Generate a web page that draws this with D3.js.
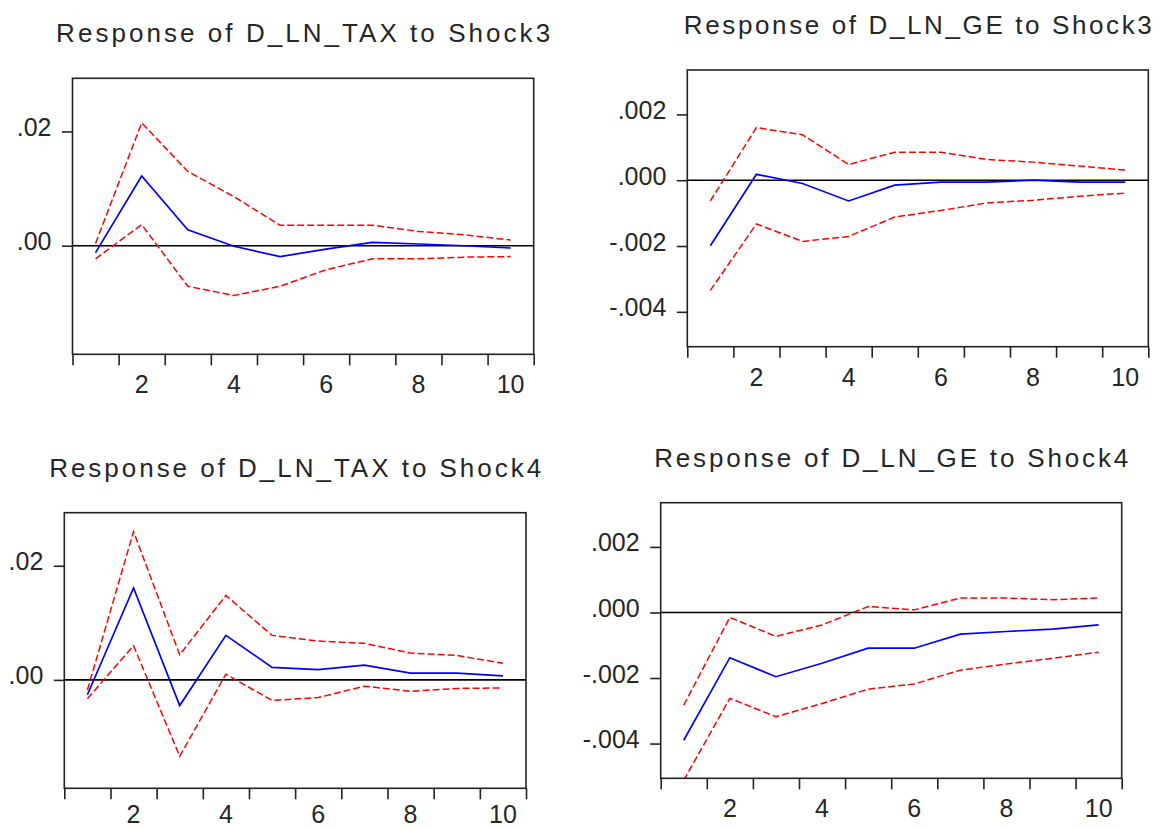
<!DOCTYPE html>
<html>
<head>
<meta charset="utf-8">
<script src="https://cdn.jsdelivr.net/npm/d3@7"></script>
<style>
  html, body { margin: 0; padding: 0; background: #fff; }
  svg { display: block; }
  text { font-family: "Liberation Sans", Arial, sans-serif; fill: #262626; }
</style>
</head>
<body>
<svg id="chart" width="1160" height="829"></svg>
<script>
// ---------- data ----------
const periods = [1, 2, 3, 4, 5, 6, 7, 8, 9, 10];
const xTickLabels = [2, 4, 6, 8, 10];

const titles = [
  "Response of D_LN_TAX to Shock3",
  "Response of D_LN_GE to Shock3",
  "Response of D_LN_TAX to Shock4",
  "Response of D_LN_GE to Shock4"
];

const taxYTicks = [0.00, 0.02];
const taxYTickLabels = [".00", ".02"];
const geYTicks = [-0.004, -0.002, 0.000, 0.002];
const geYTickLabels = ["-.004", "-.002", ".000", ".002"];

const taxYDomain = [-0.0190, 0.0293];
const geYDomain = [-0.00506, 0.00335];

// Response of D_LN_TAX to Shock3
const taxShock3Resp  = [-0.0012, 0.0122, 0.0028, -0.0001, -0.0019, -0.0006, 0.0006, 0.0003, 0.0000, -0.0004];
const taxShock3Upper = [0.0004, 0.0215, 0.0130, 0.0086, 0.0036, 0.0036, 0.0036, 0.0025, 0.0019, 0.0010];
const taxShock3Lower = [-0.0023, 0.0037, -0.0071, -0.0087, -0.0071, -0.0042, -0.0023, -0.0023, -0.0020, -0.0019];

// Response of D_LN_GE to Shock3
const geShock3Resp  = [-0.00199, 0.00018, -0.00010, -0.00063, -0.00015, -0.00006, -0.00006, 0.00000, -0.00006, -0.00006];
const geShock3Upper = [-0.00063, 0.00160, 0.00138, 0.00048, 0.00085, 0.00085, 0.00063, 0.00055, 0.00043, 0.00031];
const geShock3Lower = [-0.00335, -0.00133, -0.00186, -0.00171, -0.00112, -0.00092, -0.00069, -0.00061, -0.00049, -0.00039];

// Response of D_LN_TAX to Shock4
const taxShock4Resp  = [-0.0026, 0.0161, -0.0045, 0.0078, 0.0022, 0.0018, 0.0026, 0.0012, 0.0012, 0.0007];
const taxShock4Upper = [-0.0018, 0.0260, 0.0044, 0.0148, 0.0078, 0.0068, 0.0064, 0.0047, 0.0043, 0.0029];
const taxShock4Lower = [-0.0033, 0.0060, -0.0134, 0.0010, -0.0036, -0.0031, -0.0011, -0.0020, -0.0015, -0.0014];

// Response of D_LN_GE to Shock4
const geShock4Resp  = [-0.00390, -0.00138, -0.00196, -0.00155, -0.00109, -0.00109, -0.00066, -0.00058, -0.00051, -0.00038];
const geShock4Upper = [-0.00283, -0.00015, -0.00073, -0.00038, 0.00018, 0.00008, 0.00044, 0.00044, 0.00039, 0.00044];
const geShock4Lower = [-0.00512, -0.00262, -0.00318, -0.00278, -0.00234, -0.00218, -0.00176, -0.00157, -0.00140, -0.00121];

// ---------- layout ----------
const panels = [
  { title: titles[0], box: { l: 72.5, r: 533.7, t: 78.3, b: 354.3 }, yDomain: taxYDomain, yTicks: taxYTicks, yLabels: taxYTickLabels, resp: taxShock3Resp, upper: taxShock3Upper, lower: taxShock3Lower, titleLen: 494 },
  { title: titles[1], box: { l: 687.3, r: 1148.3, t: 70.0, b: 346.7 }, yDomain: geYDomain, yTicks: geYTicks, yLabels: geYTickLabels, resp: geShock3Resp, upper: geShock3Upper, lower: geShock3Lower, titleLen: 468 },
  { title: titles[2], box: { l: 64.3, r: 526.0, t: 512.7, b: 788.3 }, yDomain: taxYDomain, yTicks: taxYTicks, yLabels: taxYTickLabels, resp: taxShock4Resp, upper: taxShock4Upper, lower: taxShock4Lower, titleLen: 492 },
  { title: titles[3], box: { l: 660.7, r: 1121.7, t: 502.7, b: 778.3 }, yDomain: geYDomain, yTicks: geYTicks, yLabels: geYTickLabels, resp: geShock4Resp, upper: geShock4Upper, lower: geShock4Lower, titleLen: 474 }
];

const svg = d3.select("#chart");
const defs = svg.append("defs");
const xBoundaryTicks = d3.range(0.5, 10.6, 1);

panels.forEach((p, i) => {
  const b = p.box;
  const x = d3.scaleLinear().domain([0.5, 10.5]).range([b.l, b.r]);
  const y = d3.scaleLinear().domain(p.yDomain).range([b.b, b.t]);
  const g = svg.append("g");

  // title
  g.append("text")
    .attr("x", (b.l + b.r) / 2)
    .attr("y", b.t - 36)
    .attr("text-anchor", "middle")
    .attr("font-size", 26)
    .attr("textLength", p.titleLen)
    .attr("lengthAdjust", "spacing")
    .text(p.title);

  // clip
  const clipId = "clip" + i;
  defs.append("clipPath").attr("id", clipId)
    .append("rect").attr("x", b.l).attr("y", b.t).attr("width", b.r - b.l).attr("height", b.b - b.t);

  const plot = g.append("g").attr("clip-path", `url(#${clipId})`);

  // zero line
  plot.append("line")
    .attr("x1", b.l).attr("x2", b.r)
    .attr("y1", y(0)).attr("y2", y(0))
    .attr("stroke", "#000").attr("stroke-width", 1.6);

  const line = d3.line().x((d, k) => x(periods[k])).y(d => y(d));

  plot.append("path").datum(p.upper)
    .attr("d", line).attr("fill", "none")
    .attr("stroke", "#ff0000").attr("stroke-width", 1.5)
    .attr("stroke-dasharray", "7,3");
  plot.append("path").datum(p.lower)
    .attr("d", line).attr("fill", "none")
    .attr("stroke", "#ff0000").attr("stroke-width", 1.5)
    .attr("stroke-dasharray", "7,3");
  plot.append("path").datum(p.resp)
    .attr("d", line).attr("fill", "none")
    .attr("stroke", "#0000ff").attr("stroke-width", 1.7);

  // frame
  g.append("rect")
    .attr("x", b.l).attr("y", b.t)
    .attr("width", b.r - b.l).attr("height", b.b - b.t)
    .attr("fill", "none").attr("stroke", "#222").attr("stroke-width", 1.6);

  // x axis: ticks at period boundaries, labels at even periods
  const xAxis = d3.axisBottom(x).tickValues(xBoundaryTicks).tickSize(11).tickFormat("");
  const xg = g.append("g").attr("transform", `translate(0,${b.b})`).call(xAxis);
  xg.select(".domain").remove();
  xg.selectAll(".tick line").attr("stroke", "#222").attr("stroke-width", 1.6);

  g.selectAll(".xlab").data(xTickLabels).enter().append("text")
    .attr("x", d => x(d))
    .attr("y", Math.min(b.b + 39, 823))
    .attr("text-anchor", "middle")
    .attr("font-size", 25)
    .text(d => d);

  // y axis
  const yAxis = d3.axisLeft(y).tickValues(p.yTicks).tickSize(10.5).tickFormat("");
  const yg = g.append("g").attr("transform", `translate(${b.l},0)`).call(yAxis);
  yg.select(".domain").remove();
  yg.selectAll(".tick line").attr("stroke", "#222").attr("stroke-width", 1.6);

  g.selectAll(".ylab").data(p.yTicks).enter().append("text")
    .attr("x", b.l - 21)
    .attr("y", d => y(d) + 4.5)
    .attr("text-anchor", "end")
    .attr("font-size", 25)
    .text((d, k) => p.yLabels[k]);
});
</script>
</body>
</html>
